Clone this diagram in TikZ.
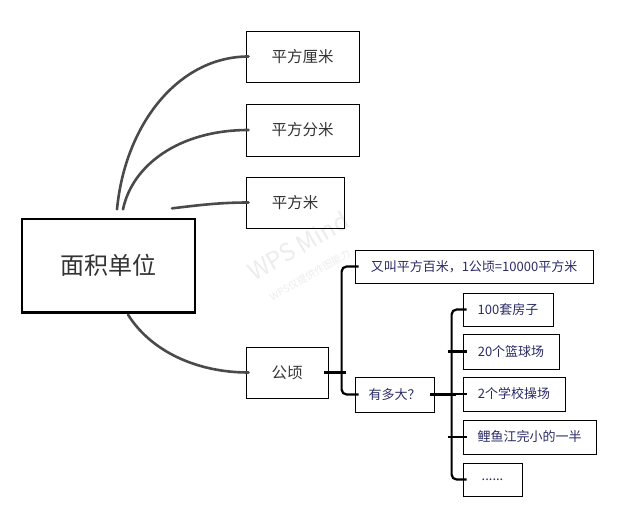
\documentclass[tikz,border=0pt]{standalone}
\usepackage{fontspec}
\newfontfamily\cjk{Noto Sans CJK SC}

\definecolor{rama}{HTML}{4A4A4A}
\definecolor{tinta}{HTML}{333333}
\definecolor{tintahija}{HTML}{2A2A66}
\definecolor{marca}{HTML}{ECECEC}

\tikzset{
  caja/.style={draw=black, line width=0.8pt, inner sep=0pt, text=tinta,
    font=\cjk\fontsize{15.5}{18}\selectfont},
  cajahija/.style={caja, text=tintahija, font=\cjk\fontsize{13}{16}\selectfont},
  rama/.style={draw=rama, line width=2.6pt, line cap=round, shorten >=-3pt},
  enlace/.style={draw=black, line width=2.2pt, rounded corners=5pt,
    shorten >=-4pt, shorten <=-4pt},
}

\begin{document}
\begin{tikzpicture}[x=1pt, y=-1pt]
    \useasboundingbox (0,0) rectangle (624,524);

    % Marca de agua
    \node[rotate=30, text=marca, font=\cjk\fontsize{24}{28}\selectfont] (wm) at (298,246) {WPS Mind};
    \node[rotate=30, text=marca, font=\cjk\fontsize{10}{12}\selectfont] (wmsub) at (310,275) {WPS仅提供作图能力};

    % Nodo central
    \node[caja, line width=1.3pt, minimum width=173pt, minimum height=93pt,
      font=\cjk\fontsize{24}{28}\selectfont] (area) at (108.5,265.5) {面积单位};

    % Primer nivel
    \node[caja, minimum width=113pt, minimum height=51pt] (cm) at (302.5,56.5) {平方厘米};
    \node[caja, minimum width=113pt, minimum height=52pt] (dm) at (302.5,130) {平方分米};
    \node[caja, minimum width=98pt, minimum height=51pt] (m) at (295,202.5) {平方米};
    \node[caja, minimum width=82pt, minimum height=51pt] (ha) at (287,372.5) {公顷};

    % Segundo nivel
    \node[cajahija, minimum width=238pt, minimum height=33pt] (alt) at (474,266.5) {又叫平方百米，1公顷=10000平方米};
    \node[cajahija, minimum width=79pt, minimum height=35pt] (size) at (394.5,394.5) {有多大？};

    % Tercer nivel
    \node[cajahija, minimum width=90pt, minimum height=33pt] (h1) at (508,309.5) {100套房子};
    \node[cajahija, minimum width=96pt, minimum height=35pt] (h2) at (511,351.5) {20个篮球场};
    \node[cajahija, minimum width=102pt, minimum height=34pt] (h3) at (514,394) {2个学校操场};
    \node[cajahija, minimum width=133pt, minimum height=34pt] (h4) at (529.5,437) {鲤鱼江完小的一半};
    \node[cajahija, minimum width=59pt, minimum height=33pt] (h5) at (492.5,479.5) {......};

    % Bordes inferiores mas gruesos
    \draw[line width=2pt] (area.south west) -- (area.south east);
    \foreach \n in {cm,dm,m,ha,alt,size,h1,h2,h3,h4,h5}
      \draw[line width=1.5pt] (\n.south west) -- (\n.south east);

    % Ramas curvas
    \coordinate (s1) at ([shift={(8.5,-9)}]area.north);
    \coordinate (s2) at ([shift={(14.5,-9)}]area.north);
    \coordinate (s3) at ([shift={(63.5,-10)}]area.north);
    \coordinate (s4) at ([shift={(19.5,2)}]area.south);
    \draw[rama] (s1) .. controls (125,125) and (178,56.5) .. (cm.west);
    \draw[rama] (s2) .. controls (132,166) and (178,130) .. (dm.west);
    \draw[rama] (s3) .. controls (200,205) and (220,202.5) .. (m.west);
    \draw[rama] (s4) .. controls (150,350) and (195,372.5) .. (ha.west);

    % Conectores del hectarea
    \coordinate (bus1) at ([xshift=-13pt]alt.west);
    \draw[enlace] (ha.east) -- (ha.east -| bus1);
    \draw[enlace] (alt.west) -- (bus1) |- (size.west);

    \coordinate (bus2) at ([xshift=-11pt]h1.west);
    \draw[enlace, line width=3.5pt] (size.east) -- (size.east -| bus2);
    \draw[enlace] (h1.west) -- (bus2) |- (h5.west);
    \foreach \n in {h2,h3,h4}
      \draw[enlace] (bus2 |- \n.west) -- (\n.west);
\end{tikzpicture}
\end{document}
